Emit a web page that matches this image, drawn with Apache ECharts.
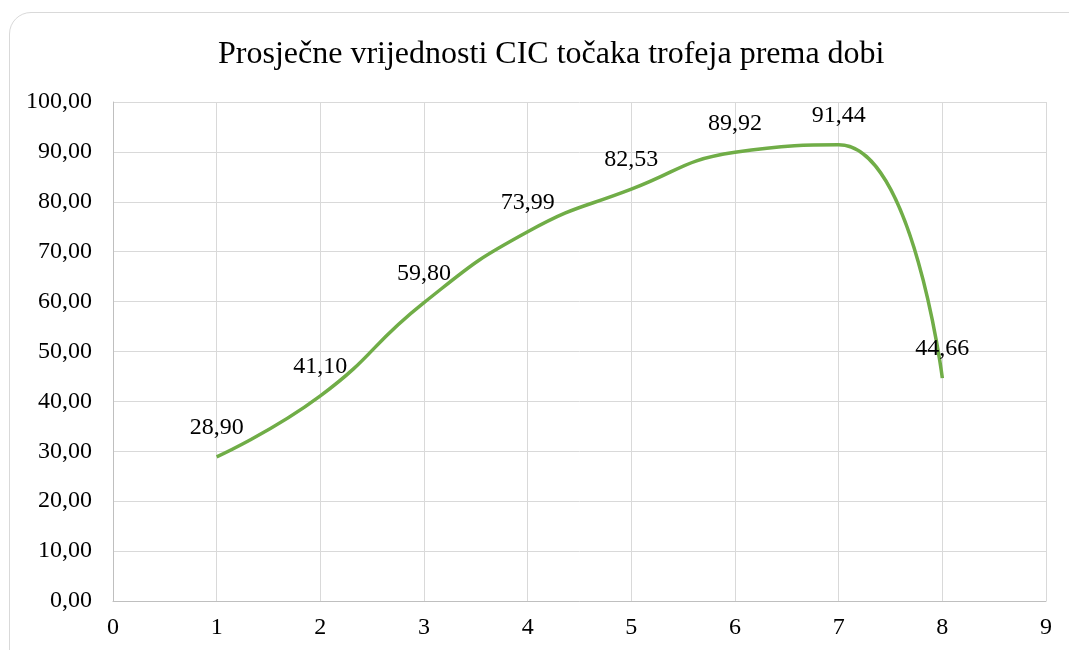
<!DOCTYPE html>
<html>
<head>
<meta charset="utf-8">
<script src="https://cdn.jsdelivr.net/npm/echarts@6/dist/echarts.min.js"></script>
<style>
  html, body { margin: 0; padding: 0; background: #fff; overflow: hidden; }
  #card {
    position: absolute; left: 9px; top: 12px; width: 1090px; height: 680px;
    border: 1px solid #d9d9d9; border-radius: 22px; box-sizing: border-box;
  }
  #chart { position: absolute; left: 0; top: 0; width: 1069px; height: 650px; }
</style>
</head>
<body>
<div id="card"></div>
<div id="chart"></div>
<script>
// dob (x) i prosječne CIC točke (y)
const ages = [1, 2, 3, 4, 5, 6, 7, 8];
const cicPoints = [28.90, 41.10, 59.80, 73.99, 82.53, 89.92, 91.44, 44.66];
const titleText = "Prosječne vrijednosti CIC točaka trofeja prema dobi";

const fmt = v => v.toFixed(2).replace(".", ",");

const chart = echarts.init(document.getElementById("chart"));
const font = "'Liberation Serif', 'Times New Roman', serif";

const option = {
  animation: false,
  title: {
    text: titleText,
    left: 213,
    top: 34,
    textStyle: { fontFamily: font, fontSize: 32, fontWeight: "normal", color: "#000" }
  },
  grid: { left: 113, top: 102, right: 23, bottom: 49 },
  xAxis: {
    type: "value",
    min: 0,
    max: 9,
    interval: 1,
    axisLine: { lineStyle: { color: "#bfbfbf", width: 1 } },
    axisTick: { show: false },
    axisLabel: { fontFamily: font, fontSize: 24, color: "#000", margin: 15 },
    splitLine: { show: true, lineStyle: { color: "#d9d9d9", width: 1 } }
  },
  yAxis: {
    type: "value",
    min: 0,
    max: 100,
    interval: 10,
    axisLine: { show: true, lineStyle: { color: "#bfbfbf", width: 1 } },
    axisTick: { show: false },
    axisLabel: { fontFamily: font, fontSize: 24, color: "#000", margin: 21, formatter: v => fmt(v) },
    splitLine: { show: true, lineStyle: { color: "#d9d9d9", width: 1 } }
  },
  series: [
    {
      type: "line",
      data: ages.map((a, i) => [a, cicPoints[i]]),
      smooth: 0.5,
      showSymbol: true,
      symbol: "circle",
      symbolSize: 2,
      itemStyle: { color: "rgba(0,0,0,0)", borderWidth: 0 },
      lineStyle: { color: "#70ad47", width: 3.5 },
      label: {
        show: true,
        position: "top",
        distance: 16,
        fontFamily: font,
        fontSize: 24,
        color: "#000",
        formatter: p => fmt(p.value[1])
      },
      labelLayout: { hideOverlap: false }
    }
  ]
};

chart.setOption(option);
</script>
</body>
</html>
